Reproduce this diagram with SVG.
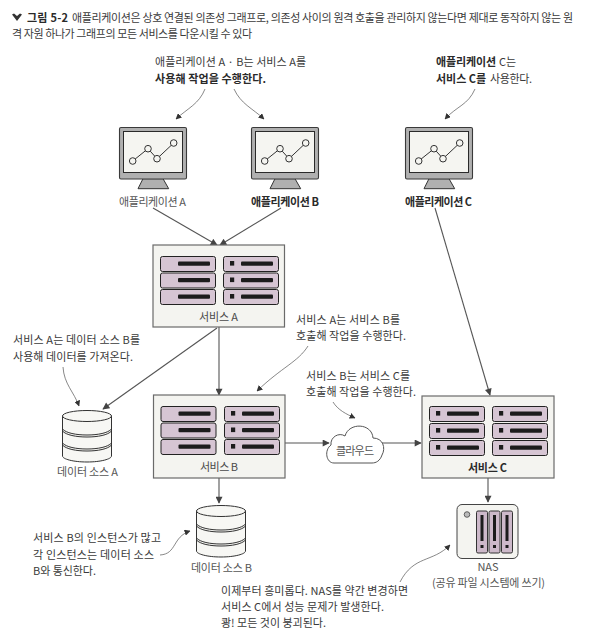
<svg xmlns="http://www.w3.org/2000/svg" width="593" height="638" viewBox="0 0 593 638">
<style>
text{font-family:"Noto Sans CJK KR","Noto Sans",sans-serif;font-size:11px;fill:#3a3a3a}
.b{font-weight:700;fill:#2a2a2a}
.lab{fill:#555}
.cap{fill:#4a4a4a}
.box{fill:#f4f4f0;stroke:#6a6a6a;stroke-width:1.2}
.row{fill:#d6c5d3;stroke:#222;stroke-width:1}
.bar{fill:#1c1c1c}
.conn{fill:none;stroke:#555;stroke-width:1.1}
.call{fill:none;stroke:#555;stroke-width:.7}
</style>
<defs>
<marker id="ah" viewBox="0 0 10 10" refX="9" refY="5" markerWidth="8" markerHeight="7" markerUnits="userSpaceOnUse" orient="auto"><path d="M0 0L10 5L0 10z" fill="#444"/></marker>
<marker id="as" viewBox="0 0 10 10" refX="9" refY="5" markerWidth="6" markerHeight="6" markerUnits="userSpaceOnUse" orient="auto"><path d="M0 0L10 5L0 10z" fill="#333"/></marker>
<g id="mon">
<path d="M24 51.7L19 61.7H49.7L44 51.7z" fill="#b0b0b0" stroke="#333" stroke-width="1"/>
<rect x=".5" y=".5" width="67" height="51.5" rx="1.5" fill="#b0b0b0" stroke="#3a3a3a" stroke-width="1.1"/>
<rect x="4.5" y="4.5" width="59" height="41" fill="#f5f5f1" stroke="#2a2a2a" stroke-width="1"/>
<polyline points="13.7,34 29,21.7 38,31.7 54.7,16" fill="none" stroke="#333" stroke-width="1"/>
<g fill="#f5f5f1" stroke="#333" stroke-width="1"><circle cx="13.7" cy="34" r="3.3"/><circle cx="29" cy="21.7" r="3.3"/><circle cx="38" cy="31.7" r="3.3"/><circle cx="54.7" cy="16" r="3.3"/></g>
</g>
<g id="rl"><rect x=".5" y=".5" width="55" height="15" rx="2" class="row"/><rect x="18" y="5.500" width="32" height="4.2" rx="1" class="bar"/></g>
<g id="rr"><rect x=".5" y=".5" width="55" height="15" rx="2" class="row"/><rect x="7" y="5" width="4.2" height="4.6" class="bar"/><rect x="18" y="5.500" width="32" height="4.2" rx="1" class="bar"/></g>
<g id="db">
<path d="M.5 6V46C.5 49 11 52 25 52S49.5 49 49.5 46V6z" fill="#f7f7f4" stroke="#333" stroke-width="1"/>
<ellipse cx="25" cy="6" rx="24.5" ry="5.5" fill="#f7f7f4" stroke="#333" stroke-width="1"/>
<path d="M.5 19C4 23 14 25 25 25S46 23 49.5 19M.5 21C4 25 14 27 25 27S46 25 49.5 21M.5 33C4 37 14 39 25 39S46 37 49.5 33M.5 35C4 39 14 41 25 41S46 39 49.5 35" fill="none" stroke="#333" stroke-width="1"/>
</g>
</defs>
<rect width="593" height="638" fill="#fff"/>

<g id="caption">
<path d="M12 14.5L14 13.5L17 16L20 13.5L22 14.5L17 21z" fill="#333"/>
<text x="27" y="22" class="b" textLength="41">그림 5-2</text>
<text x="72" y="22" textLength="501">애플리케이션은 상호 연결된 의존성 그래프로, 의존성 사이의 원격 호출을 관리하지 않는다면 제대로 동작하지 않는 원</text>
<text x="12" y="38" textLength="240">격 자원 하나가 그래프의 모든 서비스를 다운시킬 수 있다</text>
</g>

<g id="connectors">
<line class="conn" x1="153" y1="208" x2="217" y2="245" marker-end="url(#ah)"/>
<line class="conn" x1="281" y1="208" x2="220" y2="245" marker-end="url(#ah)"/>
<line class="conn" x1="435" y1="208" x2="490" y2="395" marker-end="url(#ah)"/>
<line class="conn" x1="219" y1="327" x2="219" y2="395" marker-end="url(#ah)"/>
<line class="conn" x1="217" y1="328" x2="103" y2="409" marker-end="url(#ah)"/>
<line class="conn" x1="285" y1="443" x2="329" y2="443" marker-end="url(#ah)"/>
<line class="conn" x1="381" y1="443" x2="421" y2="443" marker-end="url(#ah)"/>
<line class="conn" x1="219" y1="478" x2="219" y2="503" marker-end="url(#ah)"/>
<line class="conn" x1="488" y1="478" x2="488" y2="502" marker-end="url(#ah)"/>
<path class="call" d="M205 89C199 104 188 108 176 119" marker-end="url(#as)"/>
<path class="call" d="M234 89C241 104 252 108 264 119" marker-end="url(#as)"/>
<path class="call" d="M475 89C468 105 457 106 445 119" marker-end="url(#as)"/>
<path class="call" d="M308 346C298 362 282 367 257 391" marker-end="url(#as)"/>
<path class="call" d="M333 402C338 410 346 414 355 418" marker-end="url(#as)"/>
<path class="call" d="M63 367C64 384 74 392 79 406" marker-end="url(#as)"/>
<path class="call" d="M160 555C177 554 172 537 190 531" marker-end="url(#as)"/>
<path class="call" d="M400 582C414 555 432 563 450 545" marker-end="url(#as)"/>
</g>

<g id="note-ab"><text x="155" y="66" textLength="151">애플리케이션 A · B는 서비스 A를</text><text x="155" y="83" class="b" textLength="111">사용해 작업을 수행한다.</text></g>
<g id="note-c"><text x="436" y="66" class="b" textLength="60">애플리케이션</text><text x="499" y="66" textLength="17">C는</text><text x="436" y="83" class="b" textLength="50">서비스 C를</text><text x="490" y="83" textLength="42">사용한다.</text></g>
<g id="note-data-a"><text x="13" y="344" textLength="127">서비스 A는 데이터 소스 B를</text><text x="13" y="361" textLength="120">사용해 데이터를 가져온다.</text></g>
<g id="note-ab-call"><text x="296" y="324" textLength="104">서비스 A는 서비스 B를</text><text x="296" y="340" textLength="110">호출해 작업을 수행한다.</text></g>
<g id="note-bc-call"><text x="306" y="380" textLength="104">서비스 B는 서비스 C를</text><text x="306" y="396" textLength="110">호출해 작업을 수행한다.</text></g>
<g id="note-b-inst"><text x="33" y="542" textLength="128">서비스 B의 인스턴스가 많고</text><text x="33" y="559" textLength="121">각 인스턴스는 데이터 소스</text><text x="33" y="575" textLength="63">B와 통신한다.</text></g>
<g id="note-nas"><text x="221" y="595" textLength="187">이제부터 흥미롭다. NAS를 약간 변경하면</text><text x="221" y="611" textLength="163">서비스 C에서 성능 문제가 발생한다.</text><text x="221" y="627" textLength="105">쾅! 모든 것이 붕괴된다.</text></g>

<g id="app-a"><use href="#mon" x="119" y="127"/><text x="119" y="206" class="lab" textLength="67">애플리케이션 A</text></g>
<g id="app-b"><use href="#mon" x="251" y="127"/><text x="251" y="206" class="b" textLength="68">애플리케이션 B</text></g>
<g id="app-c"><use href="#mon" x="405" y="127"/><text x="405" y="206" class="b" textLength="67">애플리케이션 C</text></g>

<g id="service-a">
<rect class="box" x="153" y="245" width="131.500" height="82"/>
<use href="#rl" x="160" y="256"/><use href="#rl" x="160" y="272.500"/><use href="#rl" x="160" y="289"/>
<use href="#rr" x="223" y="256"/><use href="#rr" x="223" y="272.500"/><use href="#rr" x="223" y="289"/>
<text x="199" y="321" class="cap" textLength="39">서비스 A</text>
</g>
<g id="service-b">
<rect class="box" x="153.500" y="395" width="131.500" height="83"/>
<use href="#rl" x="160.500" y="406"/><use href="#rl" x="160.500" y="422.500"/><use href="#rl" x="160.500" y="439"/>
<use href="#rr" x="224" y="406"/><use href="#rr" x="224" y="422.500"/><use href="#rr" x="224" y="439"/>
<text x="200" y="471" class="cap" textLength="38">서비스 B</text>
</g>
<g id="service-c">
<rect class="box" x="422" y="396" width="132" height="82"/>
<use href="#rr" x="429" y="406"/><use href="#rr" x="429" y="423"/><use href="#rr" x="429" y="440"/>
<use href="#rr" x="492" y="406"/><use href="#rr" x="492" y="423"/><use href="#rr" x="492" y="440"/>
<text x="468" y="472" class="b" textLength="39">서비스 C</text>
</g>

<g id="cloud">
<path d="M334 463C326 463 324 450 331 445C330 437 339 432 345 436C349 422 372 423 373 438C383 438 386 448 382 455C380 461 376 463 372 463z" fill="#fff" stroke="#555" stroke-width="1"/>
<text x="336" y="455" class="lab" textLength="38">클라우드</text>
</g>

<g id="data-a"><use href="#db" x="62" y="410"/><text x="57" y="476" class="lab" textLength="61">데이터 소스 A</text></g>
<g id="data-b"><use href="#db" x="196" y="505"/><text x="191" y="572" class="lab" textLength="61">데이터 소스 B</text></g>

<g id="nas">
<rect x="457" y="504.500" width="61" height="54" rx="5" fill="#f4f4f0" stroke="#444" stroke-width="1"/>
<circle cx="467" cy="514.500" r="2.8" fill="#bbb" stroke="#444" stroke-width=".8"/>
<g stroke="#333" stroke-width="1" fill="#cdb9ca"><rect x="476.500" y="511" width="11" height="42" rx="1.500"/><rect x="489" y="511" width="11" height="42" rx="1.500"/><rect x="501.500" y="511" width="11" height="42" rx="1.500"/></g>
<g class="bar"><rect x="480.500" y="515" width="3" height="26"/><rect x="493" y="515" width="3" height="26"/><rect x="505.500" y="515" width="3" height="26"/><rect x="480.500" y="545" width="3" height="3"/><rect x="493" y="545" width="3" height="3"/><rect x="505.500" y="545" width="3" height="3"/></g>
<text x="488" y="571" text-anchor="middle" class="lab">NAS</text>
<text x="432" y="587" class="lab" textLength="113">(공유 파일 시스템에 쓰기)</text>
</g>
</svg>
